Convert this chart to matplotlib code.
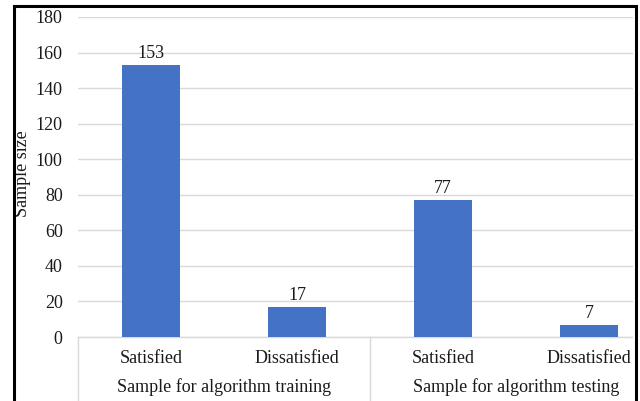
import matplotlib.pyplot as plt
from matplotlib.transforms import blended_transform_factory
from matplotlib.lines import Line2D
from matplotlib.patches import Rectangle

plt.rcParams['font.family'] = ['Liberation Serif', 'DejaVu Serif']

categories = ["Satisfied", "Dissatisfied", "Satisfied", "Dissatisfied"]
groups = ["Sample for algorithm training", "Sample for algorithm testing"]
values = [153, 17, 77, 7]
yticks = [0, 20, 40, 60, 80, 100, 120, 140, 160, 180]

W, H = 640, 401
fig = plt.figure(figsize=(W / 100, H / 100), dpi=100)

# plot area in pixel terms (extends past the right edge, clipped by the frame)
left, right, top, bottom = 78, 662, 17, 337
ax = fig.add_axes([left / W, (H - bottom) / H, (right - left) / W, (bottom - top) / H])

fs = 13
txt = '#1a1a1a'
grid = '#d9d9d9'
x = list(range(len(values)))
ax.bar(x, values, width=0.4, color='#4472C4', zorder=3)
for xi, v in zip(x, values):
    ax.annotate(str(v), (xi, v), xytext=(0, 2), textcoords='offset points',
                ha='center', va='bottom', fontsize=fs, color=txt)

ax.set_xlim(-0.5, 3.5)
ax.set_ylim(0, 180)
ax.set_yticks(yticks)
ax.set_yticklabels([str(t) for t in yticks], fontsize=fs, color=txt)
ax.yaxis.grid(True, color=grid, lw=1, zorder=0)
ax.tick_params(axis='y', length=0, pad=11)
ax.set_xticks([])
for s in ['top', 'right', 'left']:
    ax.spines[s].set_visible(False)
ax.spines['bottom'].set_color(grid)
ax.spines['bottom'].set_linewidth(1)
fig.text(22.5 / W, (H - 174) / H, "Sample size", rotation=90, ha='center',
         va='center', fontsize=fs, color=txt)

# two-level category axis
tr = blended_transform_factory(ax.transData, ax.transAxes)
for xi, c in zip(x, categories):
    ax.text(xi, -0.068, c, transform=tr, ha='center', va='center',
            fontsize=fs, color=txt, clip_on=False)
for gi, g in enumerate(groups):
    ax.text(gi * 2 + 0.5, -0.158, g, transform=tr, ha='center', va='center',
            fontsize=fs, color=txt, clip_on=False)
for xs in [-0.5, 1.5, 3.5]:
    ax.add_line(Line2D([xs, xs], [0, -0.2], transform=tr, color=grid,
                       lw=1, clip_on=False))

# white margin and outer frame
fig.add_artist(Rectangle((633 / W, 0), 1, 1, transform=fig.transFigure,
                         facecolor='white', edgecolor='none', zorder=5))
fig.add_artist(Line2D([13.5 / W, 13.5 / W, 635.5 / W, 635.5 / W],
                      [0, (H - 5.5) / H, (H - 5.5) / H, 0],
                      transform=fig.transFigure, color='black', lw=2.2,
                      zorder=6, solid_joinstyle='miter'))

fig.savefig('out.png', dpi=100)
